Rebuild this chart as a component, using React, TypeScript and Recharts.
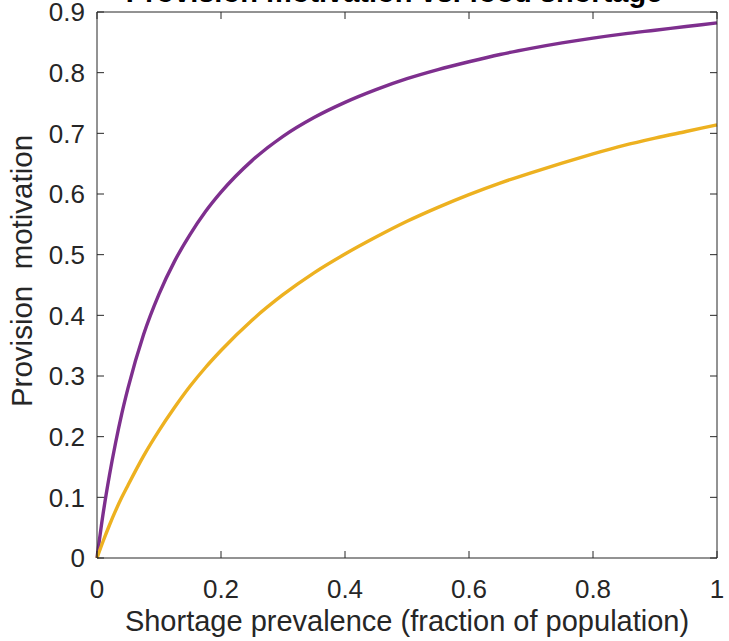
import { Line, LineChart, XAxis, YAxis } from "recharts"

const prevalence = [
  0, 0.01, 0.02, 0.03, 0.04, 0.05, 0.075, 0.1, 0.125, 0.15, 0.175, 0.2, 0.25, 0.3, 0.35,
  0.4, 0.45, 0.5, 0.55, 0.6, 0.65, 0.7, 0.75, 0.8, 0.85, 0.9, 0.95, 1,
]

const purpleSeries = [
  0, 0.074, 0.136, 0.19, 0.238, 0.28, 0.368, 0.435, 0.489, 0.533, 0.571, 0.603, 0.655, 0.695,
  0.726, 0.751, 0.772, 0.79, 0.805, 0.818, 0.83, 0.84, 0.849, 0.857, 0.864, 0.87, 0.876, 0.882,
]

const yellowSeries = [
  0, 0.028, 0.054, 0.078, 0.1, 0.12, 0.168, 0.21, 0.248, 0.283, 0.314, 0.342, 0.392, 0.434,
  0.47, 0.501, 0.529, 0.555, 0.578, 0.599, 0.618, 0.635, 0.651, 0.666, 0.68, 0.692, 0.703, 0.714,
]

const xTicks = [0, 0.2, 0.4, 0.6, 0.8, 1]
const yTicks = [0, 0.1, 0.2, 0.3, 0.4, 0.5, 0.6, 0.7, 0.8, 0.9]

const data = prevalence.map((x, i) => ({
  x,
  purple: purpleSeries[i],
  yellow: yellowSeries[i],
}))

const ink = "#262626"
const font = "'Liberation Sans', Arial, Helvetica, sans-serif"

const W = 729
const H = 641
const M_TOP = 12
const M_RIGHT = 12
const X_AXIS_H = 83
const Y_AXIS_W = 97
const TICK = 7

const plotTop = M_TOP
const plotBottom = H - X_AXIS_H
const plotLeft = Y_AXIS_W
const plotRight = W - M_RIGHT

// tick label plus inward tick marks on bottom and top edges
const XTick = (props: any) => {
  const { x, y, payload } = props
  return (
    <g>
      <line x1={x} x2={x} y1={plotBottom} y2={plotBottom - TICK} stroke={ink} />
      <line x1={x} x2={x} y1={plotTop} y2={plotTop + TICK} stroke={ink} />
      <text x={x} y={y} dy="0.71em" textAnchor="middle" fontSize={26} fill={ink}>
        {payload.value}
      </text>
    </g>
  )
}

// tick label plus inward tick marks on left and right edges
const YTick = (props: any) => {
  const { x, y, payload } = props
  return (
    <g>
      <line x1={plotLeft} x2={plotLeft + TICK} y1={y} y2={y} stroke={ink} />
      <line x1={plotRight} x2={plotRight - TICK} y1={y} y2={y} stroke={ink} />
      <text x={x} y={y} dy="0.355em" textAnchor="end" fontSize={26} fill={ink}>
        {payload.value}
      </text>
    </g>
  )
}

export default function App() {
  return (
    <div style={{ position: "absolute", left: 0, top: 0, fontFamily: font }}>
      <LineChart
        width={W}
        height={H}
        data={data}
        margin={{ top: M_TOP, right: M_RIGHT, left: 0, bottom: 0 }}
      >
        <XAxis
          dataKey="x"
          type="number"
          domain={[0, 1]}
          ticks={xTicks}
          height={X_AXIS_H}
          stroke={ink}
          tickLine={false}
          tickSize={0}
          tickMargin={22}
          tick={XTick}
          label={{
            value: "Shortage prevalence (fraction of population)",
            position: "insideBottom",
            offset: 10,
            fontSize: 29,
            fill: ink,
          }}
        />
        <YAxis
          type="number"
          domain={[0, 0.9]}
          ticks={yTicks}
          width={Y_AXIS_W}
          stroke={ink}
          tickLine={false}
          tickSize={0}
          tickMargin={12}
          tick={YTick}
          label={{
            content: () => (
              <text
                x={0}
                y={0}
                transform="translate(32 271) rotate(-90)"
                textAnchor="middle"
                fontSize={29.5}
                fill={ink}
                style={{ whiteSpace: "pre" }}
              >
                {"Provision  motivation"}
              </text>
            ),
          }}
        />
        <XAxis
          xAxisId="top"
          orientation="top"
          mirror
          dataKey="x"
          type="number"
          domain={[0, 1]}
          ticks={xTicks}
          stroke={ink}
          tickLine={false}
          tick={false}
        />
        <YAxis
          yAxisId="right"
          orientation="right"
          mirror
          type="number"
          domain={[0, 0.9]}
          ticks={yTicks}
          stroke={ink}
          tickLine={false}
          tick={false}
        />
        <Line
          type="monotone"
          dataKey="purple"
          stroke="#7E2F8E"
          strokeWidth={3.4}
          dot={false}
          isAnimationActive={false}
        />
        <Line
          type="monotone"
          dataKey="yellow"
          stroke="#EDB120"
          strokeWidth={3.4}
          dot={false}
          isAnimationActive={false}
        />
      </LineChart>
      <svg
        width={W}
        height={M_TOP}
        style={{ position: "absolute", left: 0, top: 0, overflow: "hidden" }}
      >
        <text x={394} y={2} textAnchor="middle" fontSize={29} fontWeight="bold" fill="#000">
          Provision motivation vs. food shortage
        </text>
      </svg>
    </div>
  )
}
